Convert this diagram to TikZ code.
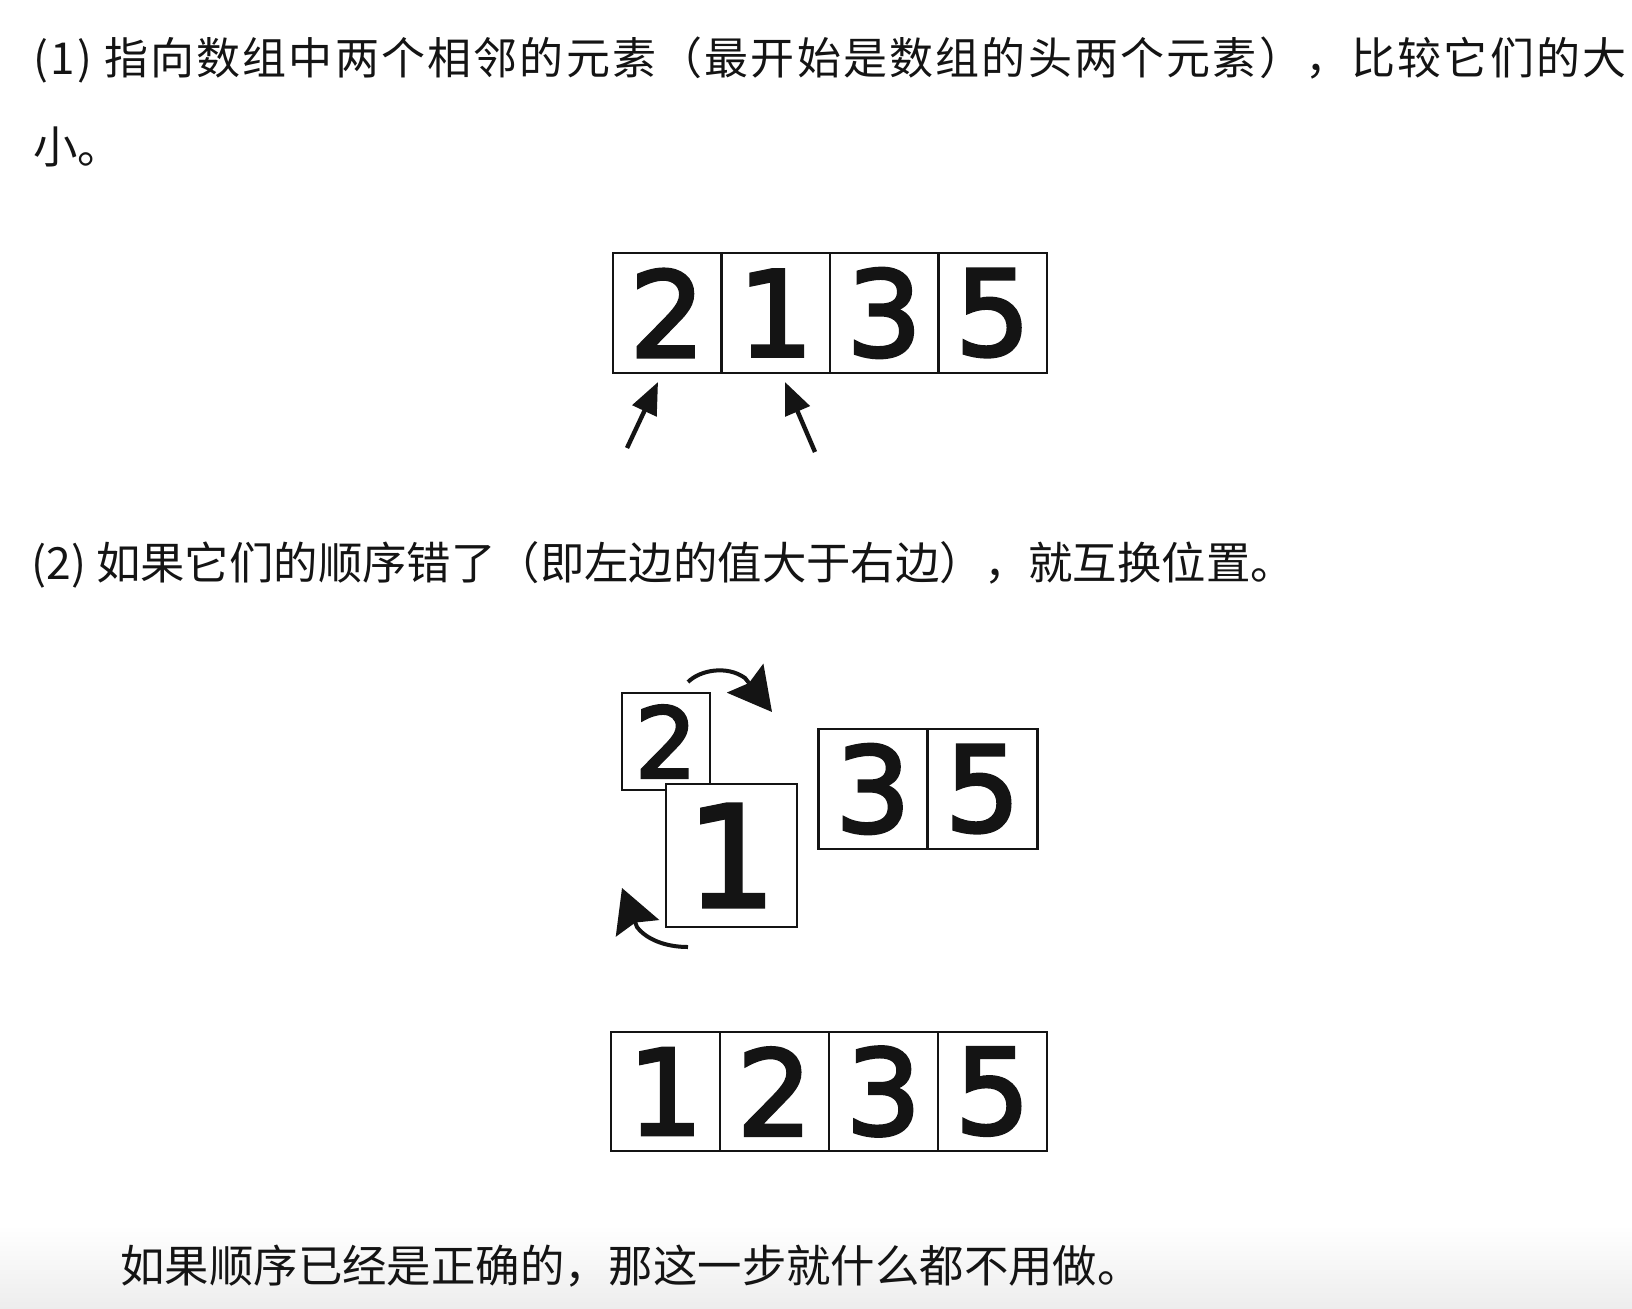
\documentclass[tikz,border=0pt]{standalone}
\usepackage{fontspec}
\setmainfont{Noto Sans CJK SC}
\newfontfamily\cjkwide[LetterSpace=5]{Noto Sans CJK SC}
\newfontfamily\digitfont[FakeBold=3]{DejaVu Sans}
\usetikzlibrary{arrows.meta}
\definecolor{ink}{HTML}{141414}
\begin{document}
\begin{tikzpicture}[x=0.5pt,y=-0.5pt,
  txt/.style={anchor=base west, inner sep=0pt, text=ink, font=\fontsize{22.2pt}{26pt}\selectfont},
  cellbase/.style={draw=ink, line width=1.4pt, fill=white, inner sep=0pt, text=ink},
  cellA/.style={cellbase, minimum width=54.25pt, minimum height=60pt, font=\digitfont\fontsize{59pt}{60pt}\selectfont},
  cellC/.style={cellbase, minimum width=54.5pt, minimum height=59.5pt, font=\digitfont\fontsize{59pt}{60pt}\selectfont},
  cellB/.style={cellbase, minimum width=54.75pt, minimum height=60pt, font=\digitfont\fontsize{59pt}{60pt}\selectfont},
  smallbox/.style={cellbase, minimum width=44pt, minimum height=48.5pt, font=\digitfont\fontsize{48.7pt}{50pt}\selectfont},
  bigbox/.style={cellbase, minimum width=65.5pt, minimum height=71.5pt, font=\digitfont\fontsize{70pt}{72pt}\selectfont},
  pointer/.style={draw=ink, line width=2.2pt, -{Triangle[length=16pt,width=13pt]}},
  swaparrow/.style={draw=ink, line width=2pt, -{Stealth[length=21.5pt,width=23pt,inset=3pt]}}
]
\useasboundingbox (0,0) rectangle (1632,1308);
\fill[white] (0,0) rectangle (1632,1308);
\shade[top color=white, bottom color=black!7] (0,1225) rectangle (1632,1308);

% text
\node[txt, font=\cjkwide\fontsize{22pt}{26pt}\selectfont] (t1) at (33,74) {(1) 指向数组中两个相邻的元素（最开始是数组的头两个元素），比较它们的大};
\node[txt] (t1b) at (33,163) {小。};
\node[txt] (t2) at (31,579) {(2) 如果它们的顺序错了（即左边的值大于右边），就互换位置。};
\node[txt] (t3) at (120,1282) {如果顺序已经是正确的，那这一步就什么都不用做。};

% array 1
\node[cellA] (a1) at (667.25,313) {2};
\node[cellA] (a2) at (775.75,313) {1};
\node[cellA] (a3) at (884.25,313) {3};
\node[cellA] (a4) at (992.75,313) {5};
\coordinate (p1s) at (627,448);
\coordinate (p1e) at (658,382);
\coordinate (p2s) at (815,452);
\coordinate (p2e) at (785,382);
\draw[pointer] (p1s) -- (p1e);
\draw[pointer] (p2s) -- (p2e);

% swap
\node[smallbox] (s2) at (666,741.5) {2};
\node[bigbox] (s1) at (731.5,855.5) {1};
\node[cellB] (b3) at (873,789) {3};
\node[cellB] (b5) at (982.5,789) {5};
\coordinate (ta) at (688,682);
\coordinate (tm) at (745,678);
\coordinate (tb) at (772,712);
\draw[swaparrow] (ta) .. controls (700,670) and (727,665) .. (tm) -- (tb);
\coordinate (ba) at (688,947);
\coordinate (bm) at (637,927);
\coordinate (bb) at (622,888);
\draw[swaparrow] (ba) .. controls (665,947) and (646,939) .. (bm) -- (bb);

% array 3
\node[cellC] (c1) at (665.5,1091.5) {1};
\node[cellC] (c2) at (774.5,1091.5) {2};
\node[cellC] (c3) at (883.5,1091.5) {3};
\node[cellC] (c4) at (992.5,1091.5) {5};
\end{tikzpicture}
\end{document}
